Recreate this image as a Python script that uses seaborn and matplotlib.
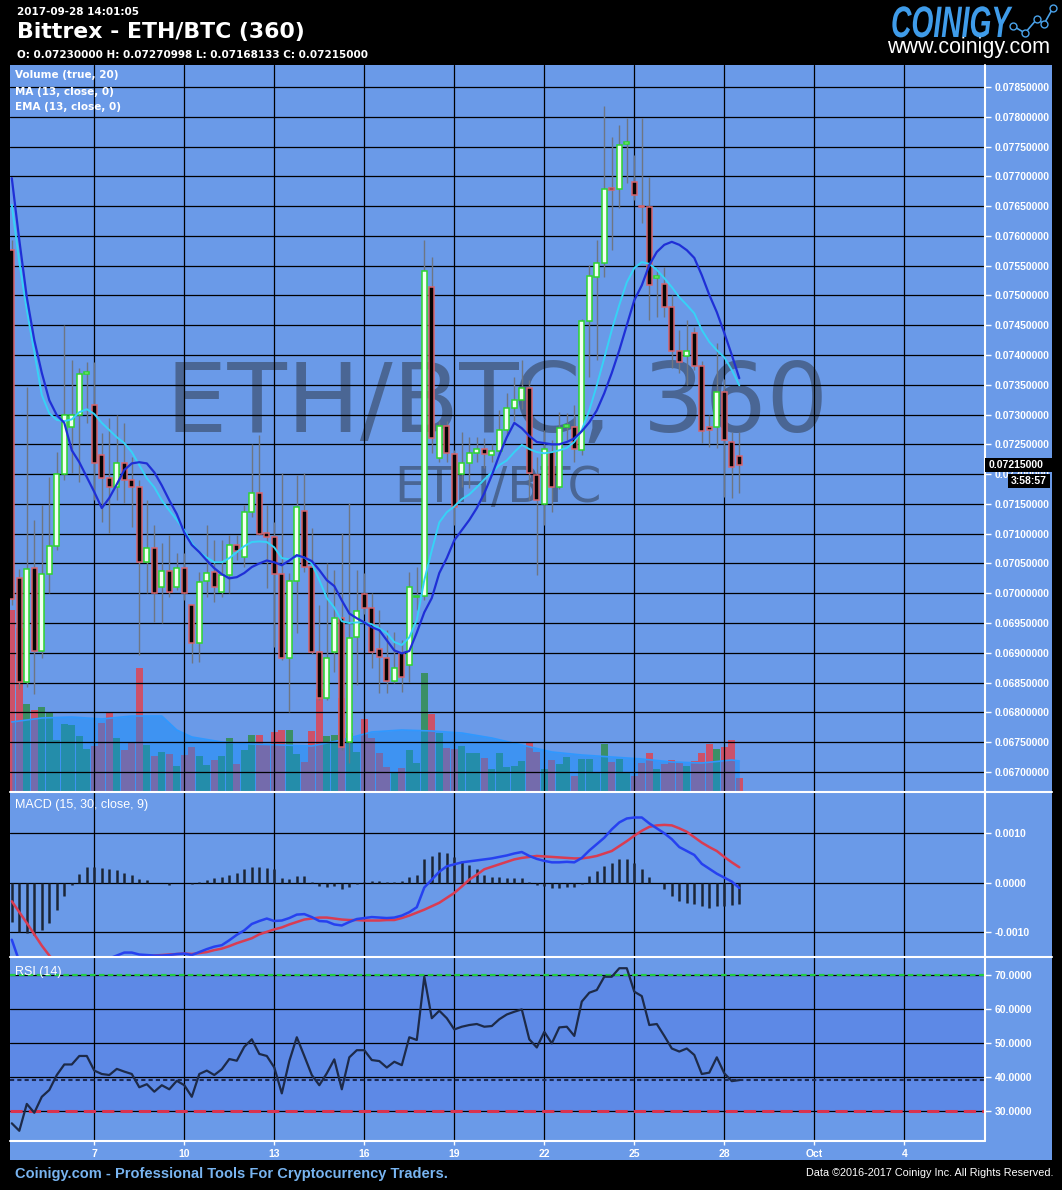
import numpy as np
import pandas as pd
import matplotlib
matplotlib.use("Agg")
import matplotlib.pyplot as plt
import matplotlib.dates as mdates
from matplotlib.lines import Line2D
from matplotlib.patches import Rectangle, PathPatch
from matplotlib.textpath import TextPath
from matplotlib.font_manager import FontProperties
from matplotlib.transforms import Affine2D
import seaborn as sns

# ── Candles (Bittrex ETH/BTC, 6h) ──────────────────────────────────────────────
opens = [0.07576, 0.07026, 0.06851, 0.07042, 0.06903, 0.07032, 0.07079, 0.07200, 0.07279, 0.07299,
         0.07368, 0.07316, 0.07232, 0.07194, 0.07178, 0.07219, 0.07190, 0.07178, 0.07052, 0.07076,
         0.07010, 0.07037, 0.07010, 0.07042, 0.06980, 0.06917, 0.07021, 0.07036, 0.07002, 0.07031,
         0.07081, 0.07061, 0.07136, 0.07168, 0.07101, 0.07094, 0.07032, 0.06891, 0.07021, 0.07138,
         0.07044, 0.06901, 0.06824, 0.06901, 0.06958, 0.06750, 0.06927, 0.06999, 0.06975, 0.06906,
         0.06891, 0.06853, 0.06899, 0.06880, 0.06993, 0.06995, 0.07514, 0.07227, 0.07280, 0.07233,
         0.07200, 0.07219, 0.07236, 0.07242, 0.07232, 0.07239, 0.07274, 0.07311, 0.07324, 0.07345,
         0.07199, 0.07150, 0.07237, 0.07178, 0.07279, 0.07279, 0.07240, 0.07457, 0.07531, 0.07555,
         0.07680, 0.07679, 0.07755, 0.07690, 0.07650, 0.07648, 0.07529, 0.07520, 0.07481, 0.07407,
         0.07398, 0.07437, 0.07382, 0.07279, 0.07279, 0.07338, 0.07254, 0.07230]
highs = [0.07593, 0.07040, 0.07346, 0.07123, 0.07148, 0.07195, 0.07237, 0.07450, 0.07392, 0.07378,
         0.07388, 0.07388, 0.07269, 0.07294, 0.07299, 0.07286, 0.07229, 0.07190, 0.07157, 0.07115,
         0.07084, 0.07098, 0.07068, 0.07068, 0.06980, 0.07036, 0.07115, 0.07090, 0.07090, 0.07098,
         0.07098, 0.07148, 0.07250, 0.07266, 0.07148, 0.07120, 0.07202, 0.07034, 0.07199, 0.07202,
         0.07110, 0.06980, 0.07051, 0.07039, 0.07101, 0.07151, 0.07039, 0.07034, 0.07000, 0.06972,
         0.06938, 0.06935, 0.06922, 0.07036, 0.07044, 0.07593, 0.07565, 0.07290, 0.07290, 0.07240,
         0.07270, 0.07262, 0.07262, 0.07260, 0.07250, 0.07308, 0.07336, 0.07363, 0.07392, 0.07358,
         0.07228, 0.07274, 0.07257, 0.07304, 0.07302, 0.07316, 0.07460, 0.07551, 0.07593, 0.07818,
         0.07766, 0.07786, 0.07798, 0.07736, 0.07798, 0.07699, 0.07546, 0.07548, 0.07500, 0.07442,
         0.07459, 0.07447, 0.07390, 0.07300, 0.07420, 0.07360, 0.07270, 0.07270998]
lows = [0.06980, 0.06840, 0.06843, 0.06830, 0.06891, 0.07000, 0.07073, 0.07190, 0.07202, 0.07187,
        0.07286, 0.07157, 0.07120, 0.07101, 0.07157, 0.07152, 0.07111, 0.06896, 0.07000, 0.06952,
        0.06950, 0.06994, 0.07005, 0.06989, 0.06883, 0.06885, 0.06994, 0.06985, 0.06994, 0.07000,
        0.07056, 0.07044, 0.07128, 0.07098, 0.07009, 0.06910, 0.06888, 0.06801, 0.06933, 0.07036,
        0.06898, 0.06821, 0.06821, 0.06868, 0.06737, 0.06715, 0.06846, 0.06965, 0.06874, 0.06833,
        0.06833, 0.06850, 0.06834, 0.06851, 0.06972, 0.06989, 0.07235, 0.07220, 0.07220, 0.07115,
        0.07178, 0.07177, 0.07220, 0.07210, 0.07220, 0.07232, 0.07266, 0.07290, 0.07310, 0.07157,
        0.07030, 0.07115, 0.07136, 0.07175, 0.07257, 0.07220, 0.07232, 0.07363, 0.07392, 0.07531,
        0.07576, 0.07647, 0.07689, 0.07660, 0.07622, 0.07459, 0.07464, 0.07464, 0.07378, 0.07370,
        0.07350, 0.07375, 0.07252, 0.07245, 0.07244, 0.07162, 0.07160, 0.07168133]
closes = [0.06990, 0.06851, 0.07041, 0.06903, 0.07032, 0.07079, 0.07200, 0.07299, 0.07299, 0.07368,
          0.07370, 0.07219, 0.07194, 0.07178, 0.07219, 0.07190, 0.07178, 0.07052, 0.07076, 0.07000,
          0.07037, 0.07002, 0.07042, 0.07000, 0.06917, 0.07019, 0.07034, 0.07010, 0.07031, 0.07081,
          0.07071, 0.07136, 0.07168, 0.07099, 0.07094, 0.07032, 0.06891, 0.07021, 0.07145, 0.07044,
          0.06901, 0.06824, 0.06891, 0.06958, 0.06742, 0.06925, 0.06970, 0.06975, 0.06901, 0.06893,
          0.06853, 0.06874, 0.06860, 0.07010, 0.06995, 0.07541, 0.07260, 0.07280, 0.07236, 0.07145,
          0.07219, 0.07236, 0.07242, 0.07234, 0.07239, 0.07274, 0.07311, 0.07324, 0.07345, 0.07202,
          0.07157, 0.07242, 0.07178, 0.07277, 0.07280, 0.07242, 0.07457, 0.07533, 0.07555, 0.07679,
          0.07677, 0.07753, 0.07757, 0.07669, 0.07648, 0.07518, 0.07531, 0.07481, 0.07407, 0.07388,
          0.07407, 0.07382, 0.07272, 0.07274, 0.07338, 0.07257, 0.07212, 0.07215]

# ── Volume + 20-period volume average ──────────────────────────────────────────
volume = [1820, 1640, 880, 820, 850, 800, 520, 680, 670, 560,
          430, 460, 690, 790, 540, 420, 490, 1240, 470, 360,
          400, 380, 260, 370, 450, 360, 270, 320, 360, 540,
          280, 420, 570, 570, 480, 600, 620, 620, 380, 300,
          610, 1030, 560, 570, 940, 590, 400, 730, 540, 390,
          250, 200, 240, 420, 290, 1190, 780, 590, 440, 430,
          460, 390, 390, 340, 230, 390, 250, 260, 310, 490,
          400, 230, 320, 280, 350, 160, 330, 330, 200, 480,
          300, 330, 190, 160, 290, 390, 230, 280, 320, 290,
          260, 310, 390, 480, 430, 450, 520, 140]
vol_ma_idx = [0, 4, 8, 12, 16, 20, 22, 24, 28, 32, 36, 40, 44, 48, 52, 56,
              60, 64, 68, 72, 76, 80, 84, 88, 92, 96, 97]
vol_ma = [700, 740, 750, 730, 760, 760, 620, 550, 500, 480, 470, 460, 520, 600, 620, 610,
          590, 540, 470, 400, 370, 350, 330, 300, 290, 320, 310]

# ── MA(13) / EMA(13) of close ──────────────────────────────────────────────────
ma13 = [0.07697, 0.07593, 0.07497, 0.07425, 0.07370, 0.07324, 0.07299, 0.07286, 0.07240, 0.07220,
        0.07195, 0.07170, 0.07143, 0.07160, 0.07183, 0.07207, 0.07218, 0.07220, 0.07218, 0.07203,
        0.07181, 0.07156, 0.07133, 0.07102, 0.07081, 0.07069, 0.07055, 0.07042, 0.07032, 0.07025,
        0.07027, 0.07034, 0.07044, 0.07050, 0.07055, 0.07052, 0.07047, 0.07055, 0.07064, 0.07060,
        0.07054, 0.07039, 0.07022, 0.07012, 0.06988, 0.06966, 0.06958, 0.06951, 0.06943, 0.06938,
        0.06921, 0.06904, 0.06899, 0.06903, 0.06934, 0.06968, 0.06992, 0.07034, 0.07059, 0.07089,
        0.07106, 0.07123, 0.07143, 0.07168, 0.07198, 0.07232, 0.07262, 0.07286, 0.07277, 0.07264,
        0.07254, 0.07252, 0.07250, 0.07250, 0.07254, 0.07260, 0.07272, 0.07287, 0.07307, 0.07336,
        0.07370, 0.07408, 0.07450, 0.07492, 0.07517, 0.07551, 0.07573, 0.07585, 0.07590, 0.07585,
        0.07576, 0.07563, 0.07534, 0.07501, 0.07472, 0.07437, 0.07400, 0.07361]
ema13 = [0.07652, 0.07556, 0.07475, 0.07405, 0.07333, 0.07302, 0.07291, 0.07289, 0.07292, 0.07304,
         0.07309, 0.07301, 0.07286, 0.07274, 0.07262, 0.07252, 0.07237, 0.07215, 0.07193, 0.07178,
         0.07156, 0.07139, 0.07123, 0.07106, 0.07084, 0.07069, 0.07060, 0.07052, 0.07052, 0.07059,
         0.07069, 0.07079, 0.07086, 0.07087, 0.07086, 0.07077, 0.07059, 0.07057, 0.07062, 0.07060,
         0.07050, 0.07022, 0.06992, 0.06976, 0.06953, 0.06950, 0.06951, 0.06951, 0.06948, 0.06941,
         0.06933, 0.06918, 0.06913, 0.06926, 0.06955, 0.07022, 0.07072, 0.07119, 0.07136, 0.07146,
         0.07158, 0.07166, 0.07178, 0.07191, 0.07203, 0.07215, 0.07223, 0.07237, 0.07249, 0.07242,
         0.07237, 0.07235, 0.07237, 0.07240, 0.07244, 0.07254, 0.07274, 0.07307, 0.07349, 0.07395,
         0.07442, 0.07484, 0.07522, 0.07546, 0.07556, 0.07553, 0.07543, 0.07529, 0.07514, 0.07497,
         0.07484, 0.07470, 0.07442, 0.07422, 0.07408, 0.07396, 0.07375, 0.07349]

# ── MACD (15, 30, 9) ───────────────────────────────────────────────────────────
macd = [-0.00116, -0.00160, -0.00185, -0.00205, -0.00220, -0.00228, -0.00225, -0.00215, -0.00200, -0.00185,
        -0.00175, -0.00167, -0.00160, -0.00154, -0.00148, -0.00142, -0.00142, -0.00146, -0.00147, -0.00148,
        -0.00148, -0.00147, -0.00145, -0.00144, -0.00147, -0.00141, -0.00135, -0.00130, -0.00127, -0.00117,
        -0.00106, -0.00097, -0.00084, -0.00078, -0.00073, -0.00078, -0.00077, -0.00072, -0.00065, -0.00064,
        -0.00070, -0.00078, -0.00079, -0.00085, -0.00087, -0.00080, -0.00074, -0.00072, -0.00070, -0.00071,
        -0.00072, -0.00071, -0.00067, -0.00060, -0.00050, -0.00010, 0.00006, 0.00022, 0.00033, 0.00037,
        0.00041, 0.00043, 0.00045, 0.00047, 0.00049, 0.00052, 0.00055, 0.00059, 0.00062, 0.00054,
        0.00048, 0.00044, 0.00041, 0.00041, 0.00042, 0.00041, 0.00050, 0.00065, 0.00078, 0.00091,
        0.00108, 0.00122, 0.00130, 0.00132, 0.00132, 0.00120, 0.00110, 0.00100, 0.00088, 0.00072,
        0.00064, 0.00056, 0.00038, 0.00028, 0.00018, 0.00010, 0.00002, -0.00011]
signal = [-0.00038, -0.00060, -0.00082, -0.00105, -0.00128, -0.00148, -0.00165, -0.00178, -0.00185, -0.00188,
          -0.00185, -0.00180, -0.00174, -0.00168, -0.00163, -0.00159, -0.00155, -0.00152, -0.00150, -0.00148,
          -0.00147, -0.00146, -0.00145, -0.00144, -0.00145, -0.00143, -0.00141, -0.00137, -0.00134, -0.00129,
          -0.00123, -0.00118, -0.00113, -0.00105, -0.00100, -0.00095, -0.00091, -0.00085, -0.00080, -0.00075,
          -0.00073, -0.00071, -0.00071, -0.00073, -0.00075, -0.00076, -0.00076, -0.00077, -0.00077, -0.00077,
          -0.00076, -0.00076, -0.00072, -0.00067, -0.00061, -0.00055, -0.00048, -0.00041, -0.00031, -0.00021,
          -0.00008, 0.00006, 0.00016, 0.00027, 0.00032, 0.00037, 0.00042, 0.00047, 0.00050, 0.00052,
          0.00054, 0.00053, 0.00052, 0.00051, 0.00050, 0.00049, 0.00049, 0.00051, 0.00054, 0.00059,
          0.00064, 0.00074, 0.00084, 0.00095, 0.00105, 0.00113, 0.00116, 0.00117, 0.00116, 0.00110,
          0.00103, 0.00092, 0.00081, 0.00072, 0.00064, 0.00052, 0.00041, 0.00031]
hist = [-0.00081, -0.00101, -0.00103, -0.00106, -0.00096, -0.00082, -0.00056, -0.00028, -0.00004, 0.00018,
        0.00032, 0.00032, 0.00030, 0.00027, 0.00025, 0.00020, 0.00016, 0.00007, 0.00005, -0.00001,
        0.00000, -0.00004, 0.00000, 0.00000, -0.00003, 0.00001, 0.00006, 0.00010, 0.00012, 0.00016,
        0.00020, 0.00028, 0.00032, 0.00032, 0.00029, 0.00027, 0.00010, 0.00007, 0.00014, 0.00013,
        0.00002, -0.00006, -0.00010, -0.00007, -0.00013, -0.00009, -0.00003, 0.00002, 0.00004, 0.00003,
        0.00002, 0.00002, 0.00003, 0.00011, 0.00016, 0.00047, 0.00054, 0.00062, 0.00059, 0.00052,
        0.00044, 0.00035, 0.00027, 0.00016, 0.00012, 0.00011, 0.00010, 0.00010, 0.00010, 0.00002,
        -0.00004, -0.00007, -0.00012, -0.00012, -0.00010, -0.00009, -0.00003, 0.00014, 0.00023, 0.00033,
        0.00040, 0.00047, 0.00047, 0.00040, 0.00028, 0.00012, 0.00000, -0.00013, -0.00027, -0.00038,
        -0.00041, -0.00044, -0.00048, -0.00052, -0.00047, -0.00047, -0.00046, -0.00044]

# ── RSI (14) ───────────────────────────────────────────────────────────────────
rsi = [26.4, 24.2, 32.1, 29.5, 34.2, 36.2, 40.6, 43.7, 43.7, 46.2,
       46.2, 41.9, 40.9, 40.6, 42.4, 41.6, 40.9, 37.0, 37.9, 35.7,
       37.6, 36.4, 38.9, 37.6, 34.2, 40.9, 41.9, 40.6, 42.3, 45.3,
       44.8, 48.9, 51.1, 46.8, 46.2, 42.8, 35.2, 44.7, 51.7, 46.2,
       40.6, 37.6, 41.1, 45.2, 36.4, 45.8, 47.9, 47.9, 45.0, 44.7,
       42.8, 44.5, 43.5, 51.7, 50.9, 69.5, 57.3, 59.5, 57.3, 54.0,
       54.8, 55.3, 55.6, 54.8, 55.0, 57.0, 58.4, 59.2, 59.9, 51.1,
       48.7, 53.3, 49.9, 54.6, 54.8, 52.1, 62.2, 64.8, 65.6, 69.5,
       69.5, 72.0, 72.0, 65.1, 63.8, 55.3, 55.6, 52.1, 48.4, 47.5,
       48.4, 46.5, 40.9, 41.3, 45.8, 41.1, 38.8, 39.1]

# ── Axis ticks ─────────────────────────────────────────────────────────────────
price_ticks = np.round(np.arange(0.0670, 0.07851, 0.0005), 4)
macd_ticks = [-0.0010, 0.0000, 0.0010]
rsi_ticks = [30, 40, 50, 60, 70]
x_tick_dates = ['2017-09-07', '2017-09-10', '2017-09-13', '2017-09-16', '2017-09-19',
                '2017-09-22', '2017-09-25', '2017-09-28', '2017-10-01', '2017-10-04']
x_tick_labels = ['7', '10', '13', '16', '19', '22', '25', '28', 'Oct', '4']

# ── Style ──────────────────────────────────────────────────────────────────────
W, H = 1062, 1190
BG = '#6a9ae8'
WHITE = 'white'
sns.set_theme(style='dark', rc={'axes.facecolor': 'none', 'figure.facecolor': 'black'})
plt.rcParams['font.family'] = ['DejaVu Sans']
AXFONT = ['Liberation Sans', 'DejaVu Sans']

times = pd.date_range('2017-09-04 06:00', periods=len(closes), freq='6h')
t = mdates.date2num(times.to_pydatetime())
o, h, l, c = map(np.array, (opens, highs, lows, closes))
up = c >= o

fig = plt.figure(figsize=(W / 100, H / 100), dpi=100)
fig.patch.set_facecolor('black')


def box(x0, y0, x1, y1):
    return [x0 / W, 1 - y1 / H, (x1 - x0) / W, (y1 - y0) / H]


def ftext(x, y, s, **kw):
    fig.text(x / W, 1 - y / H, s, **kw)


fig.add_artist(Rectangle((10 / W, 1 - 1160 / H), 1042 / W, 1095 / H, transform=fig.transFigure,
                         facecolor=BG, edgecolor='none', zorder=-5))

ax_vol = fig.add_axes(box(10, 65, 985, 792), zorder=1)
ax = fig.add_axes(box(10, 65, 985, 792), zorder=2, sharex=ax_vol)
ax_macd = fig.add_axes(box(10, 792, 985, 957), zorder=1, sharex=ax_vol)
ax_rsi = fig.add_axes(box(10, 957, 985, 1141), zorder=1, sharex=ax_vol)
for a in (ax_vol, ax, ax_macd, ax_rsi):
    a.set_facecolor('none')
    for s in a.spines.values():
        s.set_visible(False)

# ── Volume panel (behind price) ────────────────────────────────────────────────
vol_colors = np.where(up, '#3a8f66', '#cc5169')
ax_vol.bar(t, volume, width=0.24, color=vol_colors, linewidth=0)
ma_x = t[vol_ma_idx]
ax_vol.fill_between(ma_x, 0, vol_ma, color='#0a8cff', alpha=0.45, linewidth=0)
sns.lineplot(x=ma_x, y=vol_ma, ax=ax_vol, color='#2f98ff', lw=1.2, legend=False)
ax_vol.set_ylim(0, 7270)
ax_vol.set_yticks([])
ax_vol.tick_params(axis='x', bottom=False, labelbottom=False)
ax_vol.grid(False)
ax_vol.text(0.4995, 0.495, 'ETH/BTC, 360', transform=ax_vol.transAxes, ha='center',
            va='baseline', fontsize=70, color='#4a6694')
ax_vol.text(0.5005, 0.399, 'ETH/BTC', transform=ax_vol.transAxes, ha='center',
            va='baseline', fontsize=35, color='#4a6694')

# ── Price panel ────────────────────────────────────────────────────────────────
ax.vlines(t, l, h, color='#6e7682', lw=1, zorder=3)
body_low = np.minimum(o, c)
body_h = np.maximum(np.abs(c - o), 0.00003)
ax.bar(t, body_h, bottom=body_low, width=0.16,
       color=np.where(up, '#f2fff2', '#050505'),
       edgecolor=np.where(up, '#2ed62e', '#d8646c'), linewidth=1.1, zorder=4)
sns.lineplot(x=t, y=ema13, ax=ax, color='#36d2f6', lw=1.4, legend=False, zorder=5)
sns.lineplot(x=t, y=ma13, ax=ax, color='#1f2fd6', lw=1.6, legend=False, zorder=5)
ax.set_ylim(0.066663, 0.078869)
ax.yaxis.tick_right()
price_labels = [f'{v:.8f}' for v in price_ticks]
ax.set_yticks(price_ticks, labels=price_labels, fontsize=7.5,
              fontweight='bold', color=WHITE, fontfamily=AXFONT)
ax.tick_params(axis='y', colors=WHITE, length=4, width=1, pad=3, right=True, left=False)
ax.tick_params(axis='x', bottom=False, labelbottom=False)
ax.grid(True, color='black', lw=0.9)
ax.set_axisbelow(True)
ax.set_xlabel('')
ax.set_ylabel('')

# ── MACD panel ─────────────────────────────────────────────────────────────────
ax_macd.vlines(t, 0, hist, color='#1b2536', lw=1.8, zorder=3)
sns.lineplot(x=t, y=signal, ax=ax_macd, color='#d93c52', lw=1.8, legend=False, zorder=4)
sns.lineplot(x=t, y=macd, ax=ax_macd, color='#2641f0', lw=1.8, legend=False, zorder=5)
ax_macd.set_ylim(-0.00151, 0.001837)
ax_macd.yaxis.tick_right()
ax_macd.set_yticks(macd_ticks, labels=[f'{v:.4f}' for v in macd_ticks], fontsize=7.5,
                   fontweight='bold', color=WHITE, fontfamily=AXFONT)
ax_macd.tick_params(axis='y', colors=WHITE, length=4, width=1, pad=3, right=True, left=False)
ax_macd.tick_params(axis='x', bottom=False, labelbottom=False)
ax_macd.grid(True, color='black', lw=0.9)
ax_macd.set_axisbelow(True)
ax_macd.set_ylabel('')

# ── RSI panel ──────────────────────────────────────────────────────────────────
ax_rsi.axhspan(30, 70, color='#5d89e6', lw=0, zorder=0)
ax_rsi.axhline(70, color='#22cc44', lw=1.6, ls=(0, (2.5, 1.5)), zorder=3)
ax_rsi.axhline(30, color='#d9334f', lw=2.2, ls=(0, (4, 2)), zorder=3)
ax_rsi.axhline(rsi[-1], color='#1c2a55', lw=1.5, ls=(0, (2, 1.5)), zorder=3)
sns.lineplot(x=t, y=rsi, ax=ax_rsi, color='#1d2a48', lw=1.6, legend=False, zorder=4)
ax_rsi.set_ylim(21.2, 75.3)
ax_rsi.yaxis.tick_right()
ax_rsi.set_yticks(rsi_ticks, labels=[f'{v:.4f}' for v in rsi_ticks], fontsize=7.5,
                  fontweight='bold', color=WHITE, fontfamily=AXFONT)
ax_rsi.tick_params(axis='y', colors=WHITE, length=4, width=1, pad=3, right=True, left=False)
tick_x = mdates.date2num(pd.to_datetime(x_tick_dates).to_pydatetime())
ax_rsi.set_xticks(tick_x, labels=x_tick_labels, fontsize=7.5, fontweight='bold',
                  color=WHITE, fontfamily=AXFONT)
ax_rsi.tick_params(axis='x', colors=WHITE, length=3, width=1, pad=3, bottom=True)
ax_rsi.grid(True, color='black', lw=0.9)
ax_rsi.set_axisbelow(True)
ax_rsi.set_ylabel('')
ax.set_xlim(t[0] - 0.06, t[0] + 32.44)


# ── Panel frames ───────────────────────────────────────────────────────────────
def fline(xs, ys, **kw):
    fig.add_artist(Line2D([x / W for x in xs], [1 - y / H for y in ys],
                          transform=fig.transFigure, **kw))


fline([10, 1052], [792, 792], color=WHITE, lw=1.5, zorder=10)
fline([10, 1052], [957, 957], color=WHITE, lw=1.5, zorder=10)
fline([10, 985], [1141, 1141], color=WHITE, lw=1.5, zorder=10)
fline([985, 985], [65, 1141], color=WHITE, lw=1.5, zorder=10)

# current price tag (covers the 0.0720 tick label, as on the terminal)
fig.add_artist(Rectangle((985 / W, 1 - 472 / H), 67 / W, 14 / H, transform=fig.transFigure,
                         facecolor='black', edgecolor='none', zorder=11))
ftext(989, 465, f'{closes[-1]:.8f}', color=WHITE, fontsize=7.5, fontweight='bold',
      fontfamily=AXFONT, va='center', zorder=12)
fig.add_artist(Rectangle((1008 / W, 1 - 488 / H), 42 / W, 14 / H, transform=fig.transFigure,
                         facecolor='black', edgecolor='none', zorder=11))
ftext(1029, 481, '3:58:57', color=WHITE, fontsize=7.5, fontweight='bold',
      fontfamily=AXFONT, va='center', ha='center', zorder=12)

# ── Header / labels / footer ───────────────────────────────────────────────────
ftext(17, 12, '2017-09-28 14:01:05', color=WHITE, fontsize=7.5, fontweight='bold', va='center')
ftext(17, 32, 'Bittrex - ETH/BTC (360)', color=WHITE, fontsize=15.8, fontweight='bold', va='center')
ftext(17, 55, f'O: {opens[-1]:.8f} H: {highs[-1]:.8f} L: {lows[-1]:.8f} C: {closes[-1]:.8f}',
      color=WHITE, fontsize=7.5, fontweight='bold', va='center')

# logo text, drawn as a condensed outline
logo = TextPath((0, 0), 'COINIGY', size=44,
                prop=FontProperties(family='Liberation Sans', weight='bold', style='italic'))
sx = 120 / logo.get_extents().width
logo_tr = Affine2D().scale(sx / W, 1 / H).translate(891 / W, 1 - 37 / H) + fig.transFigure
fig.add_artist(PathPatch(logo, transform=logo_tr, facecolor='#3f9cea', edgecolor='none', zorder=10))
ftext(887, 47, 'www.coinigy.com', color=WHITE, fontsize=15.5, fontfamily=AXFONT, va='center')
fline([1013, 1025, 1037, 1044, 1053], [26, 33, 19, 24, 8], color='#4aa2ea', lw=1.2,
      marker='o', markersize=5, markerfacecolor='black', markeredgecolor='#4aa2ea', zorder=10)

for y, s in [(75, 'Volume (true, 20)'), (92, 'MA (13, close, 0)'), (107, 'EMA (13, close, 0)')]:
    ftext(15, y, s, color=WHITE, fontsize=7.5, fontweight='bold', va='center', zorder=12)
ftext(15, 805, 'MACD (15, 30, close, 9)', color=WHITE, fontsize=9, fontfamily=AXFONT,
      va='center', zorder=12)
ftext(15, 972, 'RSI (14)', color=WHITE, fontsize=9, fontfamily=AXFONT, va='center', zorder=12)

ftext(15, 1174, 'Coinigy.com - Professional Tools For Cryptocurrency Traders.', color='#78b4f0',
      fontsize=10.5, fontweight='bold', fontfamily=AXFONT, va='center')
ftext(1053, 1173, 'Data \u00a92016-2017 Coinigy Inc. All Rights Reserved.', color=WHITE,
      fontsize=7.8, fontfamily=AXFONT, va='center', ha='right')

fig.savefig('out.png', dpi=100, facecolor='black')
